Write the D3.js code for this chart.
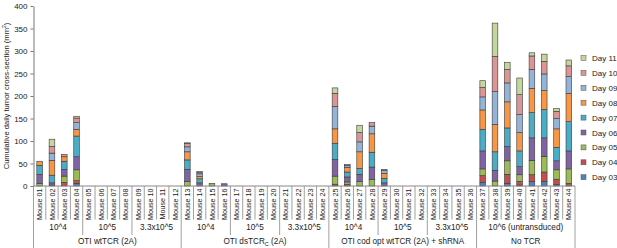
<!DOCTYPE html>
<html>
<head>
<meta charset="utf-8">
<script src="https://cdn.jsdelivr.net/npm/d3@7"></script>
<style>
  body { margin: 0; background: #fff; }
  svg { font-family: "Liberation Sans", Arial, sans-serif; }
</style>
</head>
<body>
<svg id="chart" width="617" height="248"></svg>
<script>
var mice = [];
for (var m = 1; m <= 44; m++) mice.push('Mouse ' + (m < 10 ? '0' + m : m));

var days = ['Day 03', 'Day 04', 'Day 05', 'Day 06', 'Day 07', 'Day 08', 'Day 09', 'Day 10', 'Day 11'];
var dayColors = ['#4F81BD', '#C0504D', '#9BBB59', '#8064A2', '#4BACC6', '#F79646', '#95B3D7', '#D99694', '#C3D69B'];

// mice 01-04 | 05-08 | 09-12 | 13-16 | 17-20 | 21-24 | 25-28 | 29-32 | 33-36 | 37-44
var day03 = [0,2,0,6, 0,0,0,0, 0,0,0,0, 0,0,0,0, 0,0,0,0, 0,0,0,0, 0,0,0,0, 0,0,0,0, 0,0,0,0, 8,0,6,2,10,10,3,0];
var day04 = [0,0,8,6, 0,0,0,0, 0,0,0,0, 0,0,0,0, 0,0,0,0, 0,0,0,0, 4,4,0,0, 0,0,0,0, 0,0,0,0, 15,0,20,8,15,21,12,6];
var day05 = [6,0,14,24, 0,0,0,0, 0,0,0,0, 10,0,6,0, 0,0,0,0, 0,0,0,0, 18,5,10,15, 0,0,0,0, 0,0,0,0, 15,11,30,15,32,35,21,32];
var day06 = [20,5,15,29, 0,0,0,0, 0,0,0,0, 27,7,0,5, 0,0,0,0, 0,0,0,0, 37,11,16,27, 7,0,0,0, 0,0,0,0, 40,24,32,18,50,41,20,40];
var day07 = [20,17,18,46, 0,0,0,0, 0,0,0,0, 21,9,0,0, 0,0,0,0, 0,0,0,0, 36,11,13,33, 10,0,0,0, 0,0,0,0, 48,41,41,35,56,63,30,65];
var day08 = [9,33,10,15, 0,0,0,0, 0,0,0,0, 18,5,0,0, 0,0,0,0, 0,0,0,0, 32,10,37,41, 11,0,0,0, 0,0,0,0, 43,61,58,41,54,42,41,63];
var day09 = [0,16,0,15, 0,0,0,0, 0,0,0,0, 11,6,0,0, 0,0,0,0, 0,0,0,0, 50,4,22,17, 6,0,0,0, 0,0,0,0, 29,73,42,40,42,37,23,37];
var day10 = [0,15,5,10, 0,0,0,0, 0,0,0,0, 7,3,0,0, 0,0,0,0, 0,0,0,0, 29,3,21,8, 3,0,0,0, 0,0,0,0, 21,78,30,44,30,28,16,24];
var day11 = [0,16,0,4, 0,0,0,0, 0,0,0,0, 2,2,0,0, 0,0,0,0, 0,0,0,0, 12,0,16,0, 0,0,0,0, 0,0,0,0, 15,74,16,37,7,16,6,13];
var series = [day03, day04, day05, day06, day07, day08, day09, day10, day11];

var subgroupLabels = ['10^4', '10^5', '3.3x10^5', '10^4', '10^5', '3.3x10^5', '10^4', '10^5', '3.3x10^5', '10^6 (untransduced)'];
var subgroupSizes = [4, 4, 4, 4, 4, 4, 4, 4, 4, 8];
var groupLabels = ['OTI wtTCR (2A)', 'OTI dsTCR|C| (2A)', 'OTI cod opt wtTCR (2A) + shRNA', 'No TCR'];
var groupSizes = [12, 12, 12, 8];
var yTicks = [0, 50, 100, 150, 200, 250, 300, 350, 400];

var margin = { top: 6, left: 33.5, right: 575, bottom: 186 };

var svg = d3.select('#chart');

var x = d3.scaleBand().domain(mice).range([margin.left, margin.right]).paddingInner(0.54).paddingOuter(0.27);
var y = d3.scaleLinear().domain([0, 400]).range([margin.bottom, margin.top]);
var step = x.step();
var edge = function (i) { return margin.left + i * step; };

// stacked data
var table = mice.map(function (name, i) {
    var row = { mouse: name };
    days.forEach(function (d, k) { row[d] = series[k][i]; });
    return row;
});
var stacked = d3.stack().keys(days)(table);

var layer = svg.selectAll('.layer')
    .data(stacked)
    .enter().append('g')
      .attr('class', 'layer')
      .attr('fill', function (d, k) { return dayColors[k]; });

layer.selectAll('rect')
    .data(function (d) { return d.filter(function (p) { return p[1] - p[0] > 0; }); })
    .enter().append('rect')
      .attr('x', function (p) { return x(p.data.mouse); })
      .attr('width', x.bandwidth())
      .attr('y', function (p) { return y(p[1]); })
      .attr('height', function (p) { return y(p[0]) - y(p[1]); })
      .attr('stroke', '#3a3a3a')
      .attr('stroke-width', 0.6);

// y axis
var yAxis = svg.append('g')
    .attr('transform', 'translate(' + margin.left + ',0)')
    .call(d3.axisLeft(y).tickValues(yTicks).tickSize(3).tickSizeOuter(0).tickPadding(3));
yAxis.select('.domain').attr('stroke', '#777');
yAxis.selectAll('.tick line').attr('stroke', '#777');
yAxis.selectAll('text').attr('font-size', 8).attr('fill', '#222').attr('font-family', null);

var yTitle = svg.append('text')
    .attr('transform', 'translate(9,' + ((margin.top + margin.bottom) / 2) + ') rotate(-90)')
    .attr('text-anchor', 'middle')
    .attr('font-size', 7.6)
    .attr('fill', '#222');
yTitle.append('tspan').text('Cumulative daily tumor cross-section (mm');
yTitle.append('tspan').attr('font-size', 5).attr('dy', -3).text('2');
yTitle.append('tspan').attr('dy', 3).text(')');

// x axis with category / subgroup / group rules
var axisColor = '#888';
svg.append('line')
    .attr('x1', margin.left).attr('x2', margin.right)
    .attr('y1', margin.bottom).attr('y2', margin.bottom)
    .attr('stroke', axisColor);

svg.selectAll('.cat-rule')
    .data(d3.range(mice.length + 1))
    .enter().append('line')
      .attr('x1', edge).attr('x2', edge)
      .attr('y1', margin.bottom).attr('y2', 219.5)
      .attr('stroke', axisColor).attr('stroke-width', 0.8);

var subStarts = [0];
subgroupSizes.forEach(function (n, i) { subStarts.push(subStarts[i] + n); });
var grpStarts = [0];
groupSizes.forEach(function (n, i) { grpStarts.push(grpStarts[i] + n); });

svg.selectAll('.sub-rule')
    .data(subStarts)
    .enter().append('line')
      .attr('x1', edge).attr('x2', edge)
      .attr('y1', 219.5).attr('y2', 235)
      .attr('stroke', axisColor).attr('stroke-width', 0.8);

svg.selectAll('.grp-rule')
    .data(grpStarts)
    .enter().append('line')
      .attr('x1', edge).attr('x2', edge)
      .attr('y1', 235).attr('y2', 248)
      .attr('stroke', axisColor).attr('stroke-width', 0.8);

svg.selectAll('.mouse-label')
    .data(mice)
    .enter().append('text')
      .attr('transform', function (d) { return 'translate(' + (x(d) + x.bandwidth() / 2 + 2.6) + ',188.5) rotate(-90)'; })
      .attr('text-anchor', 'end')
      .attr('font-size', 7.2)
      .attr('fill', '#222')
      .text(function (d) { return d; });

svg.selectAll('.sub-label')
    .data(subgroupLabels)
    .enter().append('text')
      .attr('x', function (d, i) { return (edge(subStarts[i]) + edge(subStarts[i + 1])) / 2; })
      .attr('y', 230)
      .attr('text-anchor', 'middle')
      .attr('font-size', 8.2)
      .attr('fill', '#222')
      .text(function (d) { return d; });

svg.selectAll('.grp-label')
    .data(groupLabels)
    .enter().append('text')
      .attr('x', function (d, i) { return (edge(grpStarts[i]) + edge(grpStarts[i + 1])) / 2; })
      .attr('y', 244)
      .attr('text-anchor', 'middle')
      .attr('font-size', 8.2)
      .attr('fill', '#222')
      .each(function (d) {
          var parts = d.split('|');
          var t = d3.select(this);
          t.append('tspan').text(parts[0]);
          if (parts.length > 1) {
              t.append('tspan').attr('font-size', 5.5).attr('dy', 2).text(parts[1]);
              t.append('tspan').attr('dy', -2).text(parts[2]);
          }
      });

// legend
var legend = svg.selectAll('.legend')
    .data(days.slice().reverse())
    .enter().append('g')
      .attr('class', 'legend')
      .attr('transform', function (d, i) { return 'translate(581,' + (58 + i * 14.9) + ')'; });

legend.append('rect')
    .attr('x', 0).attr('y', -2.5)
    .attr('width', 5).attr('height', 5)
    .attr('fill', function (d) { return dayColors[days.indexOf(d)]; })
    .attr('stroke', '#555').attr('stroke-width', 0.5);

legend.append('text')
    .attr('x', 11).attr('y', 3)
    .attr('font-size', 8)
    .attr('fill', '#222')
    .text(function (d) { return d; });
</script>
</body>
</html>
